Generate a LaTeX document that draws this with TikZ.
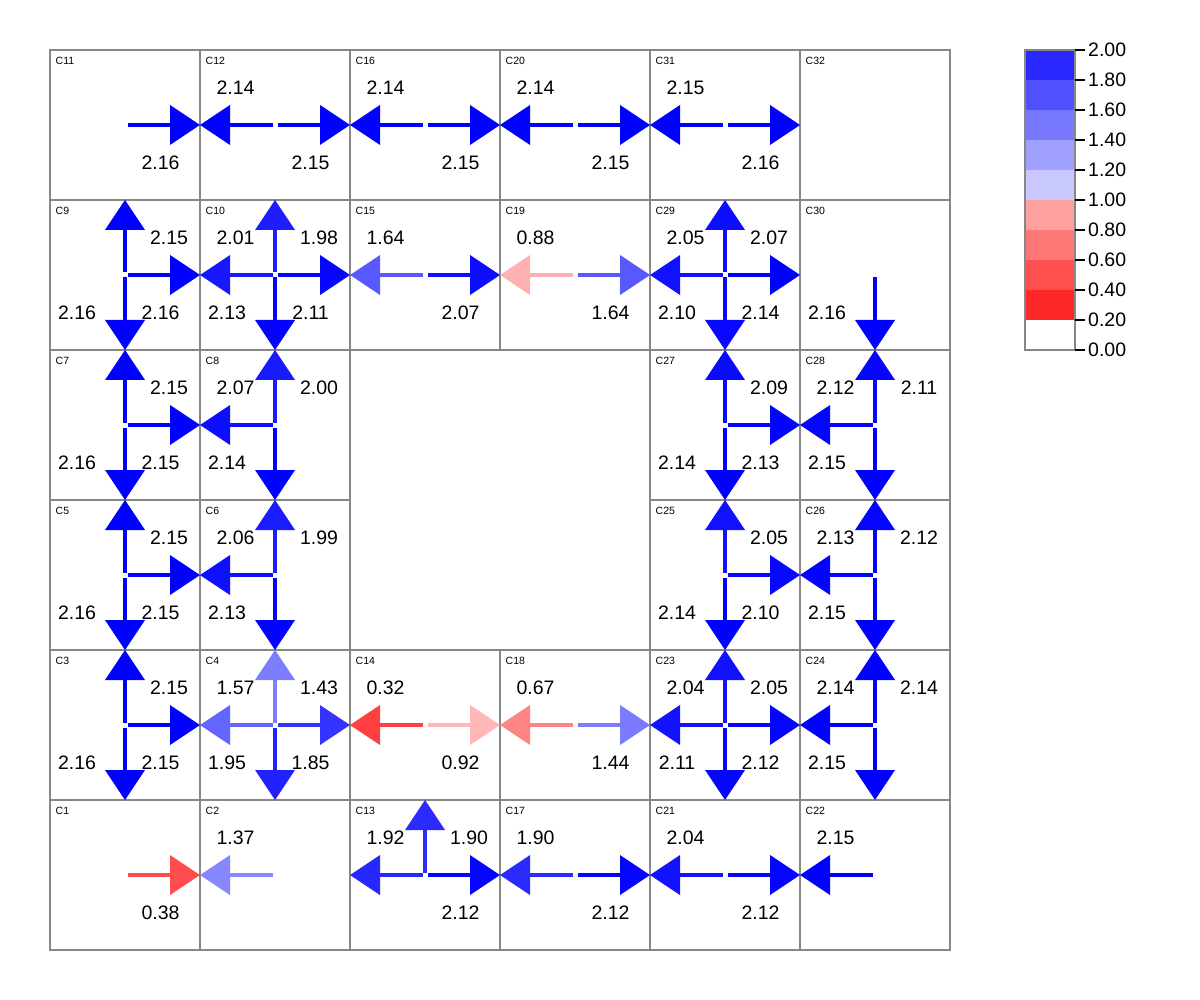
\documentclass[tikz,border=0pt]{standalone}
\usepackage{fontspec}
\setmainfont{Liberation Sans}
\usetikzlibrary{arrows.meta,calc}
\definecolor{gridgray}{RGB}{135,135,135}
\definecolor{cbA}{RGB}{40,40,255}
\definecolor{cbB}{RGB}{80,80,255}
\definecolor{cbC}{RGB}{120,120,255}
\definecolor{cbD}{RGB}{160,160,255}
\definecolor{cbE}{RGB}{200,200,255}
\definecolor{cbF}{RGB}{255,160,160}
\definecolor{cbG}{RGB}{255,120,120}
\definecolor{cbH}{RGB}{255,80,80}
\definecolor{cbI}{RGB}{255,40,40}
\definecolor{cbJ}{RGB}{255,255,255}
\newcommand\setvalcolor[1]{%
  \pgfmathtruncatemacro\isred{(#1<1)?1:0}%
  \ifnum\isred=1
    \pgfmathtruncatemacro\gv{200*#1}%
    \definecolor{vc}{RGB}{255,\gv,\gv}%
  \else
    \pgfmathtruncatemacro\gv{max(0,200*(2.15-#1)/1.15)}%
    \definecolor{vc}{RGB}{\gv,\gv,255}%
  \fi}
\tikzset{
  flowline/.style={line width=4.5pt,-{Triangle[length=30pt,width=40pt,line width=0pt]}},
  vlab/.style={font=\fontsize{19.5}{20}\selectfont,inner sep=0pt},
  cellbox/.style={draw=gridgray,line width=2pt},
  celllab/.style={font=\fontsize{10.5}{11}\selectfont,inner sep=0pt,anchor=north west},
  cblab/.style={font=\fontsize{19.5}{20}\selectfont,inner sep=0pt,anchor=west},
}
\newcommand\gridcell[3]{%
  \coordinate (#1) at (#2,#3);
  \draw[cellbox] ($(#1)+(-75,-75)$) rectangle ($(#1)+(75,75)$);
  \node[celllab] (#1lab) at ($(#1)+(-69.5,-68.5)$) {#1};}
\newcommand\flowR[2]{\setvalcolor{#2}%
  \draw[flowline,vc] ($(#1)+(2.5,0)$) -- ($(#1)+(75,0)$);
  \node[vlab] (#1R) at ($(#1)+(35.5,38)$) {#2};}
\newcommand\flowL[2]{\setvalcolor{#2}%
  \draw[flowline,vc] ($(#1)+(-2.5,0)$) -- ($(#1)+(-75,0)$);
  \node[vlab] (#1L) at ($(#1)+(-39.5,-37)$) {#2};}
\newcommand\flowU[2]{\setvalcolor{#2}%
  \draw[flowline,vc] ($(#1)+(0,-2.5)$) -- ($(#1)+(0,-75)$);
  \node[vlab] (#1U) at ($(#1)+(44,-37)$) {#2};}
\newcommand\flowD[2]{\setvalcolor{#2}%
  \draw[flowline,vc] ($(#1)+(0,2.5)$) -- ($(#1)+(0,75)$);
  \node[vlab] (#1D) at ($(#1)+(-48,38)$) {#2};}
\begin{document}
\begin{tikzpicture}[x=1pt,y=-1pt]
\useasboundingbox (0,0) rectangle (1200,1000);
\fill[white] (0,0) rectangle (1200,1000);
% cells
\gridcell{C11}{125}{125}\gridcell{C12}{275}{125}\gridcell{C16}{425}{125}
\gridcell{C20}{575}{125}\gridcell{C31}{725}{125}\gridcell{C32}{875}{125}
\gridcell{C9}{125}{275}\gridcell{C10}{275}{275}\gridcell{C15}{425}{275}
\gridcell{C19}{575}{275}\gridcell{C29}{725}{275}\gridcell{C30}{875}{275}
\gridcell{C7}{125}{425}\gridcell{C8}{275}{425}
\gridcell{C27}{725}{425}\gridcell{C28}{875}{425}
\gridcell{C5}{125}{575}\gridcell{C6}{275}{575}
\gridcell{C25}{725}{575}\gridcell{C26}{875}{575}
\gridcell{C3}{125}{725}\gridcell{C4}{275}{725}\gridcell{C14}{425}{725}
\gridcell{C18}{575}{725}\gridcell{C23}{725}{725}\gridcell{C24}{875}{725}
\gridcell{C1}{125}{875}\gridcell{C2}{275}{875}\gridcell{C13}{425}{875}
\gridcell{C17}{575}{875}\gridcell{C21}{725}{875}\gridcell{C22}{875}{875}
% row 1
\flowR{C11}{2.16}
\flowL{C12}{2.14}\flowR{C12}{2.15}
\flowL{C16}{2.14}\flowR{C16}{2.15}
\flowL{C20}{2.14}\flowR{C20}{2.15}
\flowL{C31}{2.15}\flowR{C31}{2.16}
% row 2
\flowU{C9}{2.15}\flowD{C9}{2.16}\flowR{C9}{2.16}
\flowL{C10}{2.01}\flowU{C10}{1.98}\flowD{C10}{2.13}\flowR{C10}{2.11}
\flowL{C15}{1.64}\flowR{C15}{2.07}
\flowL{C19}{0.88}\flowR{C19}{1.64}
\flowL{C29}{2.05}\flowU{C29}{2.07}\flowD{C29}{2.10}\flowR{C29}{2.14}
\flowD{C30}{2.16}
% row 3
\flowU{C7}{2.15}\flowD{C7}{2.16}\flowR{C7}{2.15}
\flowL{C8}{2.07}\flowU{C8}{2.00}\flowD{C8}{2.14}
\flowU{C27}{2.09}\flowD{C27}{2.14}\flowR{C27}{2.13}
\flowL{C28}{2.12}\flowU{C28}{2.11}\flowD{C28}{2.15}
% row 4
\flowU{C5}{2.15}\flowD{C5}{2.16}\flowR{C5}{2.15}
\flowL{C6}{2.06}\flowU{C6}{1.99}\flowD{C6}{2.13}
\flowU{C25}{2.05}\flowD{C25}{2.14}\flowR{C25}{2.10}
\flowL{C26}{2.13}\flowU{C26}{2.12}\flowD{C26}{2.15}
% row 5
\flowU{C3}{2.15}\flowD{C3}{2.16}\flowR{C3}{2.15}
\flowL{C4}{1.57}\flowU{C4}{1.43}\flowD{C4}{1.95}\flowR{C4}{1.85}
\flowL{C14}{0.32}\flowR{C14}{0.92}
\flowL{C18}{0.67}\flowR{C18}{1.44}
\flowL{C23}{2.04}\flowU{C23}{2.05}\flowD{C23}{2.11}\flowR{C23}{2.12}
\flowL{C24}{2.14}\flowU{C24}{2.14}\flowD{C24}{2.15}
% row 6
\flowR{C1}{0.38}
\flowL{C2}{1.37}
\flowL{C13}{1.92}\flowU{C13}{1.90}\flowR{C13}{2.12}
\flowL{C17}{1.90}\flowR{C17}{2.12}
\flowL{C21}{2.04}\flowR{C21}{2.12}
\flowL{C22}{2.15}
% colour bar
\foreach \k/\c in {0/cbA,1/cbB,2/cbC,3/cbD,4/cbE,5/cbF,6/cbG,7/cbH,8/cbI,9/cbJ}
  \fill[\c] (1025,50+30*\k) rectangle (1075,80+30*\k);
\draw[gridgray,line width=1.5pt] (1025,50) rectangle (1075,350);
\foreach \k/\t in {0/2.00,1/1.80,2/1.60,3/1.40,4/1.20,5/1.00,6/0.80,7/0.60,8/0.40,9/0.20,10/0.00}{
  \draw[line width=1.5pt] (1075,50+30*\k) -- (1085,50+30*\k);
  \node[cblab] (tick\k) at (1088,50+30*\k) {\t};}
\end{tikzpicture}
\end{document}
